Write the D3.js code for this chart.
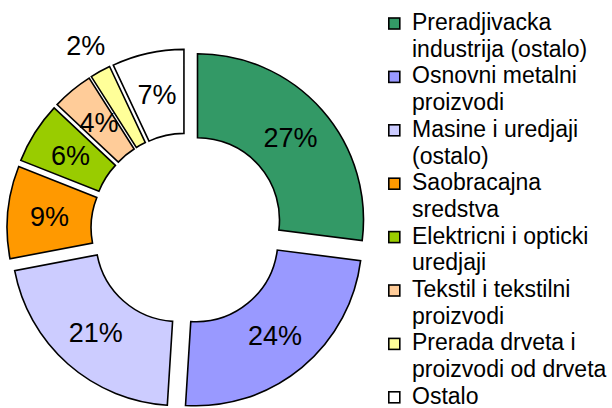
<!DOCTYPE html>
<html>
<head>
<meta charset="utf-8">
<script src="https://cdn.jsdelivr.net/npm/d3@7"></script>
<style>
  body { margin: 0; background: #fff; }
  text { font-family: "Liberation Sans", Arial, sans-serif; fill: #000; }
</style>
</head>
<body>
<div id="vis"></div>
<script>
// categories, each split into the lines shown in the legend
var categories = [
  ["Preradjivacka", "industrija (ostalo)"],
  ["Osnovni metalni", "proizvodi"],
  ["Masine i uredjaji", "(ostalo)"],
  ["Saobracajna", "sredstva"],
  ["Elektricni i opticki", "uredjaji"],
  ["Tekstil i tekstilni", "proizvodi"],
  ["Prerada drveta i", "proizvodi od drveta"],
  ["Ostalo"]
];
var values = [27, 24, 21, 9, 6, 4, 2, 7];
var colors = ["#339966", "#9999ff", "#ccccff", "#ff9900", "#99cc00", "#ffcc99", "#ffff99", "#ffffff"];
// small slices get their label outside the ring
var outsideLabel = [false, false, false, false, false, false, true, false];

var width = 612, height = 408;
var cx = 187, cy = 229,
    outerR = 166, innerR = 82,
    explode = 14;

var svg = d3.select("#vis").append("svg")
    .attr("width", width)
    .attr("height", height);

var data = values.map(function(v, i) {
  return {name: categories[i], value: v, color: colors[i], outside: outsideLabel[i]};
});

var pie = d3.pie()
    .sort(null)
    .value(function(d) { return d.value; });

var arc = d3.arc()
    .innerRadius(innerR)
    .outerRadius(outerR);

var arcs = pie(data);
var total = d3.sum(values);

var slices = svg.append("g")
    .attr("transform", "translate(" + cx + "," + cy + ")")
  .selectAll("g")
  .data(arcs)
  .enter()
  .append("g")
    .attr("transform", function(d) {
      var mid = (d.startAngle + d.endAngle) / 2;
      return "translate(" + (explode * Math.sin(mid)) + "," + (-explode * Math.cos(mid)) + ")";
    });

slices.append("path")
    .attr("d", arc)
    .attr("fill", function(d) { return d.data.color; })
    .attr("stroke", "#000")
    .attr("stroke-width", 1.6)
    .attr("stroke-linejoin", "miter");

slices.append("text")
    .attr("transform", function(d) {
      if (d.data.outside) {
        var mid = (d.startAngle + d.endAngle) / 2;
        var rr = outerR + 30;
        return "translate(" + (rr * Math.sin(mid)) + "," + (-rr * Math.cos(mid)) + ")";
      }
      return "translate(" + arc.centroid(d) + ")";
    })
    .attr("text-anchor", "middle")
    .attr("dy", "0.36em")
    .style("font-size", "27px")
    .text(function(d) { return Math.round(d.data.value / total * 100) + "%"; });

// Legend
var legendX = 388, legendTop = 23.5, lineH = 26.7;
var legend = svg.append("g");
var line = 0;
data.forEach(function(d) {
  var y = legendTop + line * lineH;
  legend.append("rect")
      .attr("x", legendX + 0.8)
      .attr("y", y - 5.5)
      .attr("width", 11)
      .attr("height", 11)
      .attr("fill", d.color)
      .attr("stroke", "#000")
      .attr("stroke-width", 1.6);
  d.name.forEach(function(t, j) {
    legend.append("text")
        .attr("x", legendX + 24)
        .attr("y", y + j * lineH + 6.5)
        .style("font-size", "23px")
        .text(t);
  });
  line += d.name.length;
});
</script>
</body>
</html>
